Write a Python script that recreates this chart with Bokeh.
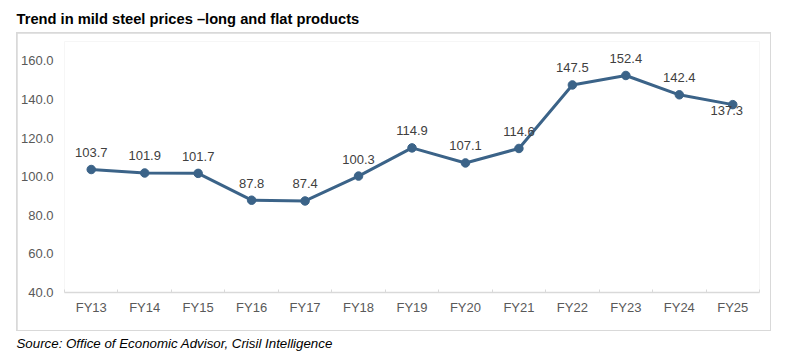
from bokeh.plotting import figure
from bokeh.layouts import column
from bokeh.models import ColumnDataSource, Range1d, FixedTicker, Label
from bokeh.embed import file_html
from bokeh.resources import INLINE
from bokeh.core.properties import value

# ---- data ----
categories = ["FY13", "FY14", "FY15", "FY16", "FY17", "FY18", "FY19",
              "FY20", "FY21", "FY22", "FY23", "FY24", "FY25"]
prices = [103.7, 101.9, 101.7, 87.8, 87.4, 100.3, 114.9,
          107.1, 114.6, 147.5, 152.4, 142.4, 137.3]
y_ticks = [40, 60, 80, 100, 120, 140, 160]

title_text = "Trend in mild steel prices \u2013long and flat products"
source_text = "Source: Office of Economic Advisor, Crisil Intelligence"

# label placement (style): offsets of each value label, px
label_dy = [-17, -17, -17, -17, -17, -17, -17, -17, -17, -17, -17, -17, 6]
label_dx = [0, 0, 0, 0, 0, 0, 0, 0, 0, 0, 0, 0, -6]

FONT = "Liberation Sans"
LINE_COLOR = "#3b6388"
BOX_COLOR = "#d9d9d9"

xs = [i + 0.5 for i in range(len(categories))]
src = ColumnDataSource(dict(x=xs, y=prices,
                            lbl=[f"{v:.1f}" for v in prices],
                            dy=label_dy, dx=label_dx))


def text_strip(height, text, y_from_bottom, size, style):
    f = figure(width=786, height=height, output_backend="svg", toolbar_location=None,
               x_axis_location=None, y_axis_location=None,
               x_range=Range1d(0, 1), y_range=Range1d(0, 1),
               min_border=0)
    f.outline_line_color = None
    f.xgrid.grid_line_color = None
    f.ygrid.grid_line_color = None
    f.add_layout(Label(x=16, y=y_from_bottom, x_units="screen", y_units="screen",
                       text=text, text_font=FONT, text_font_size=size,
                       text_font_style=style, text_color="#000000",
                       text_baseline="middle", text_align="left"))
    return f


title_fig = text_strip(32, title_text, 14, "14.7px", "bold")
source_fig = text_strip(30, source_text, 18, "13.3px", "italic")

# main chart (sits inside a 1px grey box)
p = figure(width=753, height=297, output_backend="svg", toolbar_location=None,
           x_range=Range1d(0, len(categories)), y_range=Range1d(40, 170),
           min_border_left=46, min_border_right=11,
           min_border_top=8, min_border_bottom=38)
p.outline_line_color = None
p.background_fill_color = "white"
p.border_fill_color = "white"
p.xgrid.grid_line_color = None
p.ygrid.grid_line_color = None
p.margin = (1, 1, 1, 1)

p.line("x", "y", source=src, line_color=LINE_COLOR, line_width=3)
p.scatter("x", "y", source=src, size=8.5, color=LINE_COLOR)
p.text("x", "y", text="lbl", source=src, x_offset="dx", y_offset="dy",
       text_align="center", text_baseline="middle",
       text_font=value(FONT), text_font_size="13px", text_color="#404040")

# x axis
xa = p.xaxis[0]
xa.ticker = FixedTicker(ticks=xs, minor_ticks=list(range(len(categories) + 1)))
xa.major_label_overrides = {x: c for x, c in zip(xs, categories)}
xa.major_tick_line_color = None
xa.major_tick_in = 0
xa.major_tick_out = 0
xa.minor_tick_line_color = BOX_COLOR
xa.minor_tick_in = 3
xa.minor_tick_out = 0
xa.axis_line_color = BOX_COLOR
xa.axis_line_width = 1.5
xa.major_label_standoff = 7
xa.major_label_text_font = FONT
xa.major_label_text_font_size = "13px"
xa.major_label_text_color = "#595959"

# y axis
ya = p.yaxis[0]
ya.ticker = FixedTicker(ticks=y_ticks)
ya.major_label_overrides = {t: f"{t:.1f}" for t in y_ticks}
ya.axis_line_color = None
ya.major_tick_line_color = None
ya.minor_tick_line_color = None
ya.major_tick_in = 0
ya.major_tick_out = 0
ya.major_label_standoff = 11
ya.major_label_text_font = FONT
ya.major_label_text_font_size = "13px"
ya.major_label_text_color = "#595959"

box = column(p, background=BOX_COLOR, margin=(0, 0, 0, 16))
layout = column(title_fig, box, source_fig, spacing=0)

open("out.html", "w").write(file_html(layout, INLINE))
